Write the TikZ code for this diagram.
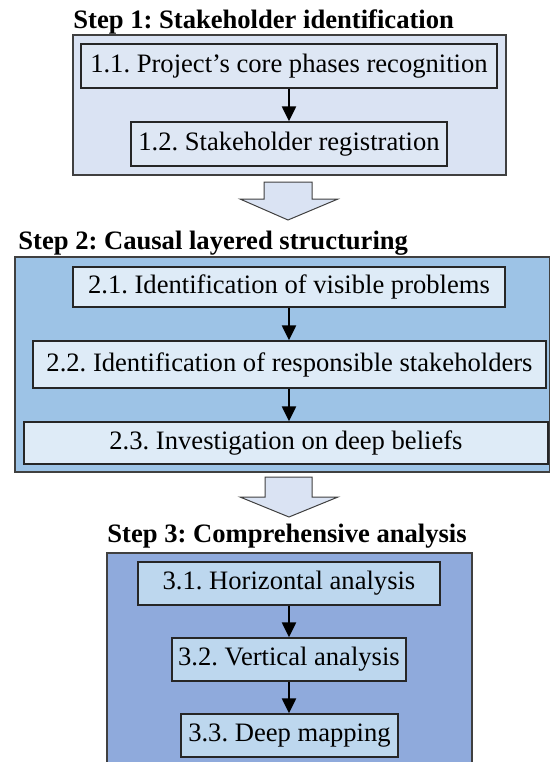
\documentclass[tikz,border=0pt]{standalone}
\usepackage{fontspec}
\setmainfont{Liberation Serif}
\usetikzlibrary{arrows.meta}
\frenchspacing
\definecolor{outA}{HTML}{DAE3F3}
\definecolor{inA}{HTML}{DEE7F4}
\definecolor{outB}{HTML}{9DC3E6}
\definecolor{inB}{HTML}{DEEBF7}
\definecolor{outC}{HTML}{8FAADC}
\definecolor{inC}{HTML}{BDD7EE}
\definecolor{edgegray}{HTML}{404040}
\tikzset{
  outerbox/.style={draw=edgegray, line width=0.6pt, inner sep=0pt, rectangle},
  innerbox/.style={draw=black!85, line width=0.65pt, inner sep=0pt, rectangle, font=\fontsize{13.3pt}{16pt}\selectfont\frenchspacing},
  steptitle/.style={anchor=base west, inner sep=0pt, font=\fontsize{13.3pt}{16pt}\selectfont\bfseries\frenchspacing},
  flow/.style={-{Triangle[length=7.5pt,width=7pt]}, line width=1.1pt, black},
  bigarrow/.style={draw=edgegray, line width=0.5pt, fill=outA}
}
\begin{document}
\begin{tikzpicture}[x=0.5pt,y=-0.5pt]
\useasboundingbox (0,0) rectangle (550,762);
\clip (0,0) rectangle (550,762);
% Step 1
\node[steptitle] (t1) at (73,28) {Step 1: Stakeholder identification};
\node[outerbox, fill=outA, minimum width=216.5pt, minimum height=70pt] (o1) at (289.5,105) {};
\node[innerbox, fill=inA, minimum width=208pt, minimum height=22pt] (b11) at (289,66) {1.1. Project’s core phases recognition};
\node[innerbox, fill=inA, minimum width=158pt, minimum height=22pt] (b12) at (289,144) {1.2. Stakeholder registration};
\draw[flow] (b11.south) -- (b12.north);
% block arrow 1
\draw[bigarrow] (264,182) -- (312,182) -- (312,199) -- (338,199) -- (288,220) -- (240,199) -- (264,199) -- cycle;
% Step 2
\node[steptitle] (t2) at (18,249) {Step 2: Causal layered structuring};
\node[outerbox, fill=outB, minimum width=267.25pt, minimum height=107.5pt] (o2) at (282.25,364.5) {};
\node[innerbox, fill=inB, minimum width=216pt, minimum height=20pt] (b21) at (289,287) {2.1. Identification of visible problems};
\node[innerbox, fill=inB, minimum width=256.5pt, minimum height=23.5pt] (b22) at (289.5,364.5) {2.2. Identification of responsible stakeholders};
\node[innerbox, fill=inB, minimum width=262pt, minimum height=21pt] (b23) at (286,443) {2.3. Investigation on deep beliefs};
\draw[flow] (b21.south) -- (b21.south |- b22.north);
\draw[flow] (b22.south -| b21.south) -- (b21.south |- b23.north);
% block arrow 2
\draw[bigarrow] (265,477) -- (312,477) -- (312,497) -- (338,497) -- (289,517) -- (240,497) -- (265,497) -- cycle;
% Step 3
\node[steptitle] (t3) at (107,542) {Step 3: Comprehensive analysis};
\node[outerbox, fill=outC, minimum width=182.5pt, minimum height=108.5pt] (o3) at (289.5,661.5) {};
\node[innerbox, fill=inC, minimum width=151pt, minimum height=21.5pt] (b31) at (289,583.5) {3.1. Horizontal analysis};
\node[innerbox, fill=inC, minimum width=117pt, minimum height=21.5pt] (b32) at (289,659.5) {3.2. Vertical analysis};
\node[innerbox, fill=inC, minimum width=108.5pt, minimum height=21.5pt] (b33) at (289.5,735.5) {3.3. Deep mapping};
\draw[flow] (b31.south) -- (b32.north);
\draw[flow] (b32.south) -- (b32.south |- b33.north);
\end{tikzpicture}
\end{document}
